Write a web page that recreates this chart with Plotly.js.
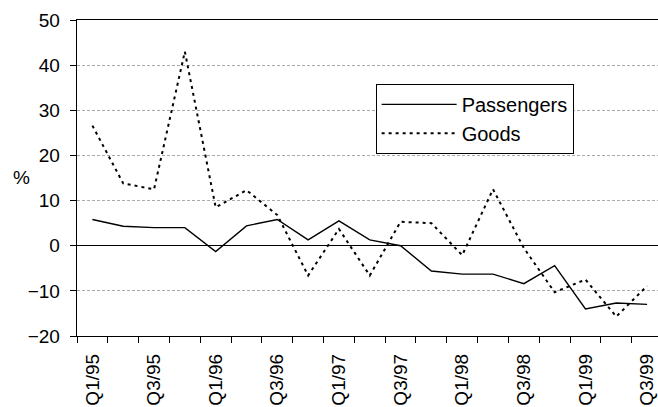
<!DOCTYPE html>
<html>
<head>
<meta charset="utf-8">
<script src="https://cdn.plot.ly/plotly-3.0.1.min.js"></script>
<style>html,body{margin:0;padding:0;overflow:hidden;background:#fff}</style>
</head>
<body>
<div id="chart" style="width:658px;height:407px"></div>
<script>
const quarters = ["Q1/95","Q2/95","Q3/95","Q4/95","Q1/96","Q2/96","Q3/96","Q4/96","Q1/97","Q2/97","Q3/97","Q4/97","Q1/98","Q2/98","Q3/98","Q4/98","Q1/99","Q2/99","Q3/99"];
const passengers = [5.8, 4.3, 4.0, 4.0, -1.3, 4.4, 5.8, 1.3, 5.5, 1.3, 0.0, -5.6, -6.3, -6.3, -8.4, -4.4, -14.0, -12.7, -13.0];
const goods = [26.6, 13.8, 12.5, 43.0, 8.5, 12.3, 6.8, -6.6, 3.7, -6.6, 5.3, 5.0, -2.1, 12.5, -0.5, -10.3, -7.5, -15.7, -8.9];
const yTicks = [-20, -10, 0, 10, 20, 30, 40, 50];

const xIdx = quarters.map((q, i) => i);
const labelIdx = xIdx.filter(i => i % 2 === 0);
const labelText = labelIdx.map(i => quarters[i]);

const font = {family: "Arial, 'Liberation Sans', sans-serif", color: "#000"};

const traces = [
  {x: xIdx, y: passengers, name: "Passengers", type: "scatter", mode: "lines",
   line: {color: "#000", width: 1.4}},
  {x: xIdx, y: goods, name: "Goods", type: "scatter", mode: "lines",
   line: {color: "#000", width: 2, dash: "3px,4px"}}
];

const layout = {
  width: 658, height: 407,
  margin: {l: 77, r: 0, t: 20, b: 71},
  paper_bgcolor: "#fff", plot_bgcolor: "#fff",
  font: Object.assign({size: 19}, font),
  showlegend: true,
  legend: {
    x: 0.514, y: 0.798, xanchor: "left", yanchor: "top",
    bordercolor: "#000", borderwidth: 1, bgcolor: "#fff",
    font: Object.assign({size: 20}, font),
    itemwidth: 75, tracegroupgap: 0
  },
  xaxis: {
    range: [-0.5, 18.354],
    tickmode: "array", tickvals: labelIdx, ticktext: labelText,
    tickangle: -90, ticks: "", ticklabelstandoff: 9,
    tickfont: Object.assign({size: 19}, font),
    showline: true, linecolor: "#000", linewidth: 1.3, mirror: true,
    showgrid: false, zeroline: false,
    minor: {tick0: -0.5, dtick: 1, ticks: "outside", ticklen: 6, tickcolor: "#000", tickwidth: 1, showgrid: false}
  },
  yaxis: {
    range: [-20, 50], tickmode: "array", tickvals: yTicks,
    ticks: "outside", ticklen: 6, tickcolor: "#000", tickwidth: 1,
    ticklabelstandoff: 6,
    tickfont: Object.assign({size: 19}, font),
    showline: true, linecolor: "#000", linewidth: 1.3,
    showgrid: true, gridcolor: "#aaa", griddash: "3px,2px", gridwidth: 1,
    zeroline: true, zerolinecolor: "#000", zerolinewidth: 1.5
  },
  annotations: [
    {text: "%", xref: "paper", yref: "paper", x: -0.096, y: 1 - (178 - 20) / 316.5,
     xanchor: "center", yanchor: "middle", showarrow: false, font: Object.assign({size: 19}, font)}
  ]
};

Plotly.newPlot("chart", traces, layout, {displayModeBar: false, staticPlot: true});
</script>
</body>
</html>
